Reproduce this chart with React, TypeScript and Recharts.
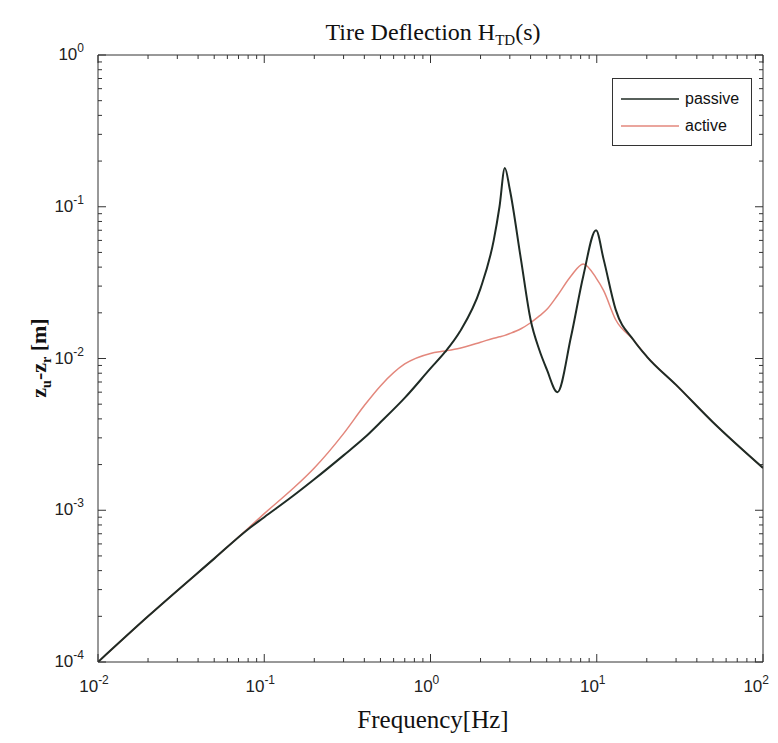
import React from 'react';
import { LineChart, Line, XAxis, YAxis } from 'recharts';

const freqHz = [0.01, 0.02, 0.05, 0.08, 0.1, 0.15, 0.2, 0.3, 0.4, 0.5, 0.7, 1, 1.22, 1.5, 2, 2.4, 2.6, 2.8, 3, 3.5, 4, 4.5, 5, 5.8, 7, 8.3, 9.9, 11, 13, 16.6, 20, 30, 50, 100];
const passiveDefl = [1.0e-4, 2.0e-4, 4.8e-4, 7.5e-4, 9.0e-4, 1.25e-3, 1.6e-3, 2.3e-3, 3.0e-3, 3.8e-3, 5.5e-3, 8.6e-3, 1.1e-2, 1.5e-2, 2.9e-2, 6.0e-2, 1.0e-1, 1.8e-1, 1.3e-1, 4.5e-2, 1.8e-2, 1.15e-2, 8.5e-3, 6.0e-3, 1.39e-2, 3.5e-2, 7.0e-2, 4.5e-2, 2.1e-2, 1.33e-2, 1.03e-2, 6.7e-3, 3.8e-3, 1.9e-3];
const activeDefl = [1.0e-4, 2.0e-4, 4.8e-4, 7.6e-4, 9.5e-4, 1.4e-3, 1.9e-3, 3.2e-3, 4.9e-3, 6.6e-3, 9.2e-3, 1.08e-2, 1.12e-2, 1.17e-2, 1.28e-2, 1.36e-2, 1.39e-2, 1.42e-2, 1.46e-2, 1.57e-2, 1.72e-2, 1.9e-2, 2.1e-2, 2.6e-2, 3.5e-2, 4.2e-2, 3.4e-2, 2.8e-2, 1.8e-2, 1.33e-2, 1.03e-2, 6.7e-3, 3.8e-3, 1.9e-3];

const xDecades = [-2, -1, 0, 1, 2];
const yDecades = [-4, -3, -2, -1, 0];

const data = freqHz.map((f, i) => ({ f, passive: passiveDefl[i], active: activeDefl[i] }));

// decade ticks plus the 2..9 minor ticks in between
const logTicks = (decades: number[]) => {
  const out: number[] = [];
  decades.forEach((d, i) => {
    out.push(Math.pow(10, d));
    if (i < decades.length - 1) {
      for (let m = 2; m <= 9; m++) out.push(m * Math.pow(10, d));
    }
  });
  return out;
};
const xTicks = logTicks(xDecades);
const yTicks = logTicks(yDecades);

const isDecade = (v: number) => Math.abs(Math.log10(v) - Math.round(Math.log10(v))) < 1e-6;

const AXIS = '#333';
const PASSIVE = '#1f2b25';
const ACTIVE = '#e3877c';
const SANS = '"Liberation Sans", Arial, sans-serif';
const SERIF = '"Liberation Serif", "Times New Roman", serif';

const Pow10 = ({ x, y, exp, anchor }: any) => (
  <text x={x} y={y} textAnchor={anchor} fontFamily={SANS} fontSize={17} fill="#222">
    <tspan>10</tspan>
    <tspan dy={-8} fontSize={12}>{exp}</tspan>
  </text>
);

const XTick = (props: any) => {
  const { x, y, payload, side } = props;
  const major = isDecade(payload.value);
  const len = major ? 8 : 4;
  const dir = side === 'top' ? 1 : -1;
  const exp = Math.round(Math.log10(payload.value));
  const last = exp === xDecades[xDecades.length - 1];
  return (
    <g>
      <line x1={x} y1={y} x2={x} y2={y + dir * len} stroke={AXIS} strokeWidth={1} />
      {side !== 'top' && major && (
        <Pow10 x={last ? x + 6 : x - 4} y={y + 30} exp={exp} anchor={last ? 'end' : 'middle'} />
      )}
    </g>
  );
};

const YTick = (props: any) => {
  const { x, y, payload, side } = props;
  const major = isDecade(payload.value);
  const len = major ? 8 : 4;
  const dir = side === 'right' ? -1 : 1;
  return (
    <g>
      <line x1={x} y1={y} x2={x + dir * len} y2={y} stroke={AXIS} strokeWidth={1} />
      {side !== 'right' && major && (
        <Pow10 x={x - 14} y={y + 5} exp={Math.round(Math.log10(payload.value))} anchor="end" />
      )}
    </g>
  );
};

const LegendBox = () => (
  <div
    style={{
      position: 'absolute',
      left: 604,
      top: 70,
      width: 140,
      boxSizing: 'border-box',
      border: '1px solid #333',
      background: '#fff',
      padding: '6px 8px',
      fontFamily: SANS,
      fontSize: 16,
      color: '#111',
    }}
  >
    {[
      { name: 'passive', color: PASSIVE },
      { name: 'active', color: ACTIVE },
    ].map(item => (
      <div key={item.name} style={{ display: 'flex', alignItems: 'center', height: 27 }}>
        <svg width={58} height={10} style={{ marginRight: 6 }}>
          <line x1={0} y1={5} x2={58} y2={5} stroke={item.color} strokeWidth={1.5} />
        </svg>
        <span>{item.name}</span>
      </div>
    ))}
  </div>
);

export default function App() {
  return (
    <div style={{ position: 'relative', width: 762, height: 727 }}>
      <LineChart
        width={762}
        height={727}
        data={data}
        margin={{ top: 46, right: 6, bottom: 0, left: 0 }}
      >
        <XAxis
          dataKey="f"
          type="number"
          scale="log"
          domain={[0.01, 100]}
          ticks={xTicks}
          interval={0}
          allowDataOverflow
          height={73}
          tickSize={0}
          tickMargin={0}
          stroke={AXIS}
          tick={<XTick side="bottom" />}
        />
        <XAxis
          xAxisId="top"
          orientation="top"
          dataKey="f"
          type="number"
          scale="log"
          domain={[0.01, 100]}
          ticks={xTicks}
          interval={0}
          allowDataOverflow
          height={1}
          tickSize={0}
          tickMargin={0}
          stroke={AXIS}
          tick={<XTick side="top" />}
        />
        <YAxis
          type="number"
          scale="log"
          domain={[1e-4, 1]}
          ticks={yTicks}
          interval={0}
          allowDataOverflow
          width={90}
          tickSize={0}
          tickMargin={0}
          stroke={AXIS}
          tick={<YTick side="left" />}
        />
        <YAxis
          yAxisId="right"
          orientation="right"
          type="number"
          scale="log"
          domain={[1e-4, 1]}
          ticks={yTicks}
          interval={0}
          allowDataOverflow
          width={1}
          tickSize={0}
          tickMargin={0}
          stroke={AXIS}
          tick={<YTick side="right" />}
        />
        <Line type="monotone" dataKey="active" stroke={ACTIVE} strokeWidth={1.5} dot={false} isAnimationActive={false} />
        <Line type="monotone" dataKey="passive" stroke={PASSIVE} strokeWidth={2} dot={false} isAnimationActive={false} />
        <text x={425} y={32} textAnchor="middle" fontFamily={SERIF} fontSize={24} fill="#111">
          <tspan>Tire Deflection H</tspan>
          <tspan fontSize={15} dy={5}>TD</tspan>
          <tspan dy={-5}>(s)</tspan>
        </text>
        <text x={425} y={720} textAnchor="middle" fontFamily={SERIF} fontSize={25} fill="#111">
          Frequency[Hz]
        </text>
        <text
          transform="translate(38,350) rotate(-90)"
          textAnchor="middle"
          fontFamily={SERIF}
          fontSize={22}
          fontWeight="bold"
          fill="#111"
        >
          <tspan>z</tspan>
          <tspan fontSize={14} dy={5}>u</tspan>
          <tspan dy={-5}>-z</tspan>
          <tspan fontSize={14} dy={5}>r</tspan>
          <tspan dy={-5}> [m]</tspan>
        </text>
      </LineChart>
      <LegendBox />
    </div>
  );
}
